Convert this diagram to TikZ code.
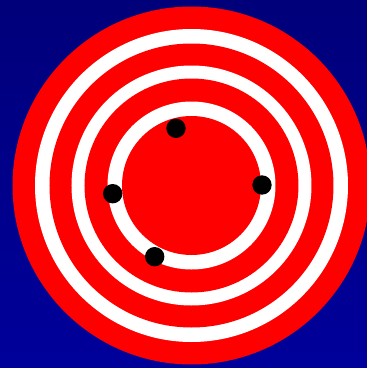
\documentclass[tikz,border=0pt]{standalone}
\definecolor{bgtop}{RGB}{0,0,122}
\definecolor{bgbot}{RGB}{0,0,155}
\definecolor{ringred}{RGB}{255,0,0}
\tikzset{
  ring/.style={fill=#1, draw=none},
  hole/.style={fill=black, draw=none}
}
\begin{document}
\begin{tikzpicture}[x=1pt,y=1pt]
\useasboundingbox (0,0) rectangle (367,368);
\clip (0,0) rectangle (367,368);
\shade[top color=bgtop, bottom color=bgbot] (0,0) rectangle (367,368);
\coordinate (c) at (191.5,182.5);
\fill[ring=ringred] (c) circle[radius=179];
\fill[ring=white] (c) circle[radius=156.5];
\fill[ring=ringred] (c) circle[radius=142];
\fill[ring=white] (c) circle[radius=120];
\fill[ring=ringred] (c) circle[radius=107];
\fill[ring=white] (c) circle[radius=84];
\fill[ring=ringred] (c) circle[radius=69.5];
\fill[hole] (176,239.7) circle[radius=9.7];
\fill[hole] (112.7,174.3) circle[radius=9.7];
\fill[hole] (262,183) circle[radius=9.7];
\fill[hole] (154.7,111.3) circle[radius=9.7];
\end{tikzpicture}
\end{document}
